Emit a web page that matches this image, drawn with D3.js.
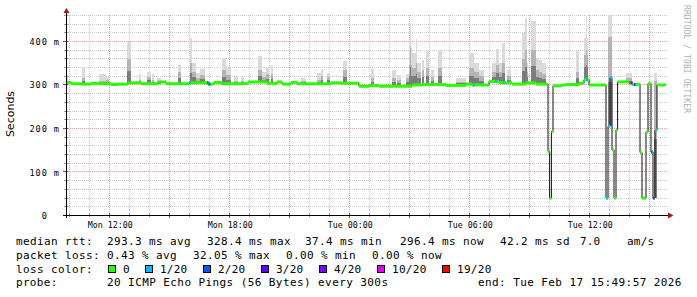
<!DOCTYPE html>
<html>
<head>
<meta charset="utf-8">
<script src="https://cdn.jsdelivr.net/npm/d3@7"></script>
<style>
  body { margin: 0; background: #fff; }
  text { font-family: "DejaVu Sans Mono", monospace; fill: #000; }
</style>
</head>
<body>
<div id="vis"></div>
<script>
// frame + plot area (pixels)
const FRAME_WIDTH = 697;
const FRAME_HEIGHT = 297;
const PLOT = {left: 66, right: 666, top: 13.2, bottom: 215.5};

const START = new Date(2026, 1, 16, 9, 49, 57);
const END = new Date(2026, 1, 17, 15, 49, 57);
const STEP_H = 5 / 60; // one probe round = 300s

// median rtt, change points: hours after START, value in ms
const medT = [0, 0.25, 0.75, 1.25, 1.65, 2.25, 2.6, 3.1, 3.75, 4.6,
              5.0, 6.15, 7.1, 7.4, 7.75, 9.1, 10.05, 10.55, 10.8, 11.25,
              11.55, 13.25, 13.75, 14.65, 15.15, 15.65, 17.3, 17.8, 19.0, 20.0,
              20.3, 21.15, 21.65, 22.3, 23.0, 23.5, 24.1, 24.18, 24.27, 24.35,
              24.8, 25.0, 25.65, 25.9, 26.15, 27.0, 27.1, 27.2, 27.3, 27.4,
              27.5, 27.58, 28.15, 28.3, 28.7, 28.8, 29.0, 29.1, 29.25, 29.35,
              29.45, 29.55];
const medV = [306, 303, 302, 304, 303, 301, 302, 305, 303, 307,
              303, 305, 302, 306, 303, 307, 304, 307, 302, 306,
              303, 305, 304, 297, 299, 297, 300, 301, 299, 302,
              300, 308, 305, 302, 305, 302, 147, 40, 193, 298,
              300, 301, 304, 312, 300, 40, 205, 317, 151, 40,
              197, 307, 305, 301, 145, 40, 192, 303, 146, 40,
              196, 300];

// probe rounds with lost pings (hours after START, pings lost of 20)
const lossT = [6.15, 7.05, 7.13, 20.35, 21.45, 21.85, 26.0, 27.0, 27.1, 27.2,
               28.15, 28.25, 28.4, 29.25, 29.35, 29.45];
const lossN = [1, 2, 2, 1, 1, 1, 1, 1, 1, 1,
               10, 4, 2, 2, 3, 1];

// smoke (ping spread): start/end hour, highest ping, top of dense part (ms)
const smokeT0 = [0, 0.8, 1.65, 2.0, 3.05, 3.65, 4.05, 4.3, 4.55, 5.6,
                 6.2, 6.3, 6.5, 6.7, 7.8, 8.0, 8.4, 8.75, 9.6, 9.8,
                 10.0, 10.25, 11.75, 12.55, 12.75, 13.05, 13.85, 15.25, 16.3, 16.55,
                 17.0, 17.15, 17.2, 17.25, 17.3, 17.5, 17.55, 17.8, 18.0, 18.25,
                 18.6, 19.5, 20.15, 20.4, 20.65, 21.3, 21.5, 21.65, 21.8, 22.05,
                 22.8, 22.97, 23.03, 23.25, 23.5, 23.65, 23.8, 25.5, 25.9, 26.0,
                 26.05, 27.1, 28.0, 29.4];
const smokeT1 = [0.1, 0.95, 2.0, 2.15, 3.25, 3.75, 4.25, 4.4, 4.75, 5.75,
                 6.3, 6.5, 6.7, 6.95, 8.0, 8.25, 8.6, 8.9, 9.8, 10.0,
                 10.15, 10.35, 12.0, 12.75, 12.85, 13.2, 14.05, 15.4, 16.5, 16.75,
                 17.15, 17.2, 17.25, 17.3, 17.5, 17.55, 17.75, 17.9, 18.15, 18.4,
                 18.8, 20.0, 20.4, 20.65, 20.9, 21.5, 21.65, 21.8, 21.95, 22.25,
                 22.97, 23.03, 23.1, 23.5, 23.65, 23.8, 24.0, 25.65, 26.0, 26.05,
                 26.1, 27.3, 28.3, 29.55];
const smokeTop = [322, 342, 326, 319, 398, 326, 329, 326, 317, 347,
                  407, 351, 327, 337, 363, 339, 318, 318, 366, 330,
                  340, 347, 317, 327, 337, 327, 354, 337, 335, 324,
                  326, 385, 443, 385, 374, 406, 350, 358, 380, 335,
                  380, 315, 374, 350, 335, 350, 383, 350, 397, 335,
                  420, 455, 350, 446, 362, 358, 350, 377, 409, 462,
                  409, 462, 328, 328];
const smokeMid = [310, 315, 310, 312, 360, 312, 318, 312, 310, 330,
                  350, 330, 315, 322, 335, 322, 310, 310, 335, 318,
                  325, 325, 310, 312, 320, 318, 335, 315, 315, 312,
                  315, 345, 385, 345, 340, 350, 330, 335, 340, 318,
                  340, 308, 340, 330, 320, 330, 345, 330, 350, 320,
                  360, 380, 330, 380, 335, 330, 325, 330, 370, 380,
                  370, 411, 315, 310];

// legend
const lossLabels = ["0", "1/20", "2/20", "3/20", "4/20", "10/20", "19/20"];
const lossLevels = [0, 1, 2, 3, 4, 10, 19];
const lossColors = ["#26ff00", "#00b8ff", "#0059ff", "#5e00ff", "#7e00ff", "#dd00ff", "#ff0000"];
const yTicks = [0, 100, 200, 300, 400];

const FRAME = d3.select("#vis")
  .append("svg")
    .attr("width", FRAME_WIDTH)
    .attr("height", FRAME_HEIGHT);

const X_SCALE = d3.scaleTime()
  .domain([START, END])
  .range([PLOT.left, PLOT.right]);

const Y_SCALE = d3.scaleLinear()
  .domain([0, 465])
  .range([PLOT.bottom, PLOT.top]);

const hx = (h) => X_SCALE(new Date(+START + h * 3600e3));
const px = (v) => Math.floor(v) + 0.5;

function medianAt(h) {
  let i = d3.bisectRight(medT, h) - 1;
  return medV[Math.max(0, i)];
}
function lossColor(n) {
  let i = d3.bisectRight(lossLevels, n) - 1;
  return lossColors[i];
}

// grid
const grid = FRAME.append("g");
const hours = d3.timeHour.every(1).range(START, END);
hours.forEach((d) => {
  const major = d.getHours() % 3 === 0;
  grid.append("line")
    .attr("x1", px(X_SCALE(d))).attr("x2", px(X_SCALE(d)))
    .attr("y1", 15).attr("y2", PLOT.bottom)
    .attr("stroke", major ? "rgba(190,40,40,0.42)" : "rgba(140,140,140,0.45)")
    .attr("stroke-dasharray", "1,1");
});
d3.range(20, 465, 20).forEach((v) => {
  const major = v % 100 === 0;
  grid.append("line")
    .attr("x1", PLOT.left).attr("x2", PLOT.right + 2)
    .attr("y1", px(Y_SCALE(v))).attr("y2", px(Y_SCALE(v)))
    .attr("stroke", major ? "rgba(190,40,40,0.42)" : "rgba(140,140,140,0.45)")
    .attr("stroke-dasharray", "1,1");
});

// smoke
const smoke = FRAME.append("g").attr("shape-rendering", "crispEdges");
smokeT0.forEach((t0, i) => {
  const t1 = smokeT1[i];
  let base = medianAt(t0);
  medT.forEach((t, j) => { if (t > t0 && t < t1) base = Math.min(base, medV[j]); });
  const x0 = Math.round(hx(t0));
  const w = Math.max(1, Math.round(hx(t1)) - x0);
  const mid = smokeMid[i];
  const bands = [[smokeTop[i], "#dadada"], [mid, "#b4b4b4"], [(base + mid) / 2, "#7c7c7c"]];
  bands.forEach(([v, c]) => {
    smoke.append("rect")
      .attr("x", x0).attr("width", w)
      .attr("y", Y_SCALE(v))
      .attr("height", Math.max(0, Y_SCALE(base) - Y_SCALE(v)))
      .attr("fill", c);
  });
});

// median: thin dark step line, then loss coloured segments on top
const medPts = medT.map((t, i) => [t, medV[i]]).concat([[30, medV[medV.length - 1]]]);
FRAME.append("path")
  .datum(medPts)
  .attr("fill", "none")
  .attr("stroke", "#111")
  .attr("stroke-width", 1)
  .attr("d", d3.line().x((d) => hx(d[0])).y((d) => Y_SCALE(d[1])).curve(d3.curveStepAfter));

const seg = FRAME.append("g");
medT.forEach((t, i) => {
  const t1 = i + 1 < medT.length ? medT[i + 1] : 30;
  seg.append("line")
    .attr("x1", hx(t)).attr("x2", hx(t1))
    .attr("y1", Y_SCALE(medV[i])).attr("y2", Y_SCALE(medV[i]))
    .attr("stroke", lossColors[0]).attr("stroke-width", 3);
});
lossT.forEach((t, i) => {
  seg.append("line")
    .attr("x1", hx(t)).attr("x2", hx(t + STEP_H))
    .attr("y1", Y_SCALE(medianAt(t))).attr("y2", Y_SCALE(medianAt(t)))
    .attr("stroke", lossColor(lossN[i])).attr("stroke-width", 3);
});

// axis ticks
const ticks = FRAME.append("g").attr("shape-rendering", "crispEdges");
hours.forEach((d) => {
  const major = d.getHours() % 3 === 0;
  ticks.append("line")
    .attr("x1", px(X_SCALE(d))).attr("x2", px(X_SCALE(d)))
    .attr("y1", 213).attr("y2", major ? 218 : 217)
    .attr("stroke", major ? "#a04040" : "#999");
});
d3.range(20, 465, 20).forEach((v) => {
  const major = v % 100 === 0;
  ticks.append("line")
    .attr("x1", major ? 63 : 64).attr("x2", 68)
    .attr("y1", px(Y_SCALE(v))).attr("y2", px(Y_SCALE(v)))
    .attr("stroke", major ? "#a04040" : "#999");
});

// axis lines + arrows
FRAME.append("line")
  .attr("x1", 63).attr("x2", 669).attr("y1", 215.5).attr("y2", 215.5)
  .attr("stroke", "#000");
FRAME.append("line")
  .attr("x1", 66.5).attr("x2", 66.5).attr("y1", 218).attr("y2", 11)
  .attr("stroke", "#000");
FRAME.append("path")
  .attr("d", "M668,212.5L673.5,215.5L668,218.5Z")
  .attr("fill", "#a01818");
FRAME.append("path")
  .attr("d", "M63.5,13L66.5,8L69.5,13Z")
  .attr("fill", "#a01818");

// axis labels
FRAME.append("g")
  .attr("transform", "translate(0.5," + PLOT.bottom + ")")
  .call(d3.axisBottom(X_SCALE)
          .ticks(d3.timeHour.every(6))
          .tickFormat(d3.timeFormat("%a %H:%M"))
          .tickSize(0))
  .call((g) => g.select(".domain").remove())
  .selectAll("text")
    .attr("y", 12.5).attr("dy", null)
    .attr("font-size", "8.3px")
    .attr("font-family", "DejaVu Sans Mono");

FRAME.append("g")
  .attr("transform", "translate(59,0)")
  .call(d3.axisLeft(Y_SCALE)
          .tickValues(yTicks)
          .tickFormat((d) => d === 0 ? "0" : d + " m")
          .tickSize(0).tickPadding(0))
  .call((g) => g.select(".domain").remove())
  .selectAll("text")
    .attr("x", (d) => d === 0 ? -12 : 0)
    .attr("dy", "0.35em")
    .attr("font-size", "8.6px")
    .attr("font-family", "DejaVu Sans Mono")
    .attr("textLength", (d) => d === 0 ? null : 29.5)
    .attr("lengthAdjust", "spacing");

FRAME.append("text")
  .attr("transform", "translate(14,114) rotate(-90)")
  .attr("text-anchor", "middle")
  .style("font-family", "'DejaVu Sans', sans-serif")
  .attr("font-size", "11px")
  .text("Seconds");

FRAME.append("text")
  .attr("transform", "translate(684,5) rotate(90)")
  .attr("font-size", "8px")
  .attr("textLength", 108)
  .attr("lengthAdjust", "spacing")
  .style("fill", "#b0b0b0")
  .text("RRDTOOL / TOBI OETIKER");

// legend text
const legendRows = [
  [[16, "median rtt:"], [107, "293.3 ms avg"], [207, "328.4 ms max"], [305, "37.4 ms min"],
   [400, "296.4 ms now"], [500, "42.2 ms sd"], [580, "7.0"], [627, "am/s"]],
  [[16, "packet loss:"], [107, "0.43 % avg"], [193, "32.05 % max"], [286, "0.00 % min"], [372, "0.00 % now"]],
  [[16, "loss color:"]],
  [[16, "probe:"], [107, "20 ICMP Echo Pings (56 Bytes) every 300s"], [478, "end: Tue Feb 17 15:49:57 2026"]]
];
const rowY = [245, 258.7, 272.5, 286.3];
legendRows.forEach((row, r) => {
  row.forEach(([x, s]) => {
    FRAME.append("text")
      .attr("x", x).attr("y", rowY[r])
      .attr("font-size", "11px")
      .attr("textLength", s.length * 7.05 - 1)
      .attr("lengthAdjust", "spacing")
      .text(s);
  });
});

const boxX = [108, 145, 203, 261, 319, 377, 442];
lossLabels.forEach((s, i) => {
  FRAME.append("rect")
    .attr("x", boxX[i] + 0.5).attr("y", 265.5)
    .attr("width", 7).attr("height", 7)
    .attr("fill", lossColors[i])
    .attr("stroke", "#000");
  FRAME.append("text")
    .attr("x", boxX[i] + 15).attr("y", rowY[2])
    .attr("font-size", "11px")
    .attr("textLength", s.length * 7.05 - 1)
    .attr("lengthAdjust", "spacing")
    .text(s);
});
</script>
</body>
</html>
